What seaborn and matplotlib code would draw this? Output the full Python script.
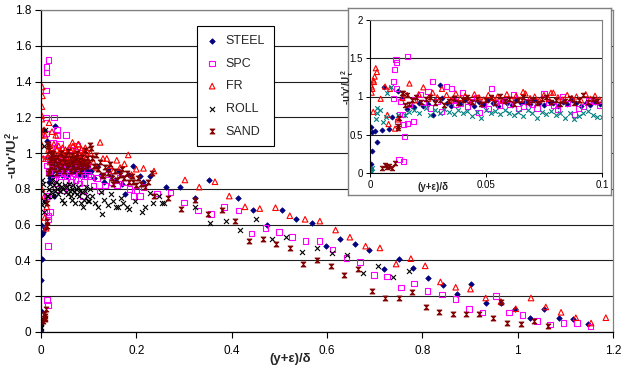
import matplotlib
matplotlib.use("Agg")
import matplotlib.pyplot as plt
import pandas as pd
import seaborn as sns
from matplotlib.path import Path
from matplotlib.ticker import FuncFormatter

# ---------------------------------------------------------------------------
# Reynolds shear stress profiles, -u'v'/U_tau^2 against (y+eps)/delta
# ---------------------------------------------------------------------------
series_names = ["STEEL", "SPC", "FR", "ROLL", "SAND"]

steel_pts = [
    (0.0, 0.0), (0.0003, 0.05), (0.0005, 0.12), (0.0008, 0.29), (0.0004, 0.60), (0.001, 0.54), (0.002, 0.55), (0.003, 0.41), (0.005, 0.56), (0.008, 0.58),
    (0.0094, 0.73), (0.006, 1.13), (0.012, 1.07), (0.014, 0.98), (0.016, 0.84), (0.018, 0.87), (0.019, 0.86), (0.021, 0.91), (0.023, 0.87), (0.025, 0.90),
    (0.027, 0.76), (0.028, 0.95), (0.030, 1.15), (0.031, 0.98), (0.033, 0.92), (0.035, 0.88), (0.037, 0.94), (0.039, 0.90), (0.041, 0.95), (0.043, 0.92),
    (0.045, 0.88), (0.047, 0.93), (0.049, 0.90), (0.051, 0.96), (0.053, 0.91), (0.055, 0.87), (0.057, 0.94), (0.059, 0.92), (0.061, 0.89), (0.063, 0.95),
    (0.065, 0.91), (0.067, 0.93), (0.069, 0.90), (0.071, 0.96), (0.073, 0.92), (0.075, 0.89), (0.077, 0.94), (0.079, 0.91), (0.081, 0.88), (0.083, 0.93),
    (0.085, 0.90), (0.087, 0.95), (0.089, 0.91), (0.091, 0.88), (0.093, 0.92), (0.095, 0.89), (0.097, 0.93), (0.099, 0.90),
    (0.105, 0.90), (0.112, 0.86), (0.118, 0.93), (0.125, 0.88), (0.132, 0.84), (0.140, 0.91), (0.147, 0.87), (0.155, 0.85), (0.163, 0.90), (0.170, 0.83),
    (0.176, 0.77), (0.184, 0.88), (0.194, 0.93), (0.208, 0.87), (0.215, 0.84),
    (0.229, 0.87), (0.262, 0.81), (0.292, 0.81), (0.323, 0.75), (0.353, 0.85), (0.414, 0.75), (0.445, 0.68), (0.475, 0.60), (0.506, 0.68), (0.536, 0.63),
    (0.568, 0.61), (0.597, 0.48), (0.627, 0.52), (0.659, 0.49), (0.689, 0.46), (0.720, 0.35), (0.750, 0.41), (0.781, 0.36), (0.811, 0.30), (0.843, 0.26),
    (0.873, 0.21), (0.902, 0.27), (0.934, 0.16), (0.965, 0.16), (0.994, 0.13), (1.026, 0.08), (1.056, 0.13), (1.087, 0.08), (1.117, 0.07), (1.148, 0.045),
]

spc_pts = [
    (0.0105, 1.35), (0.010, 1.20), (0.0112, 1.48), (0.0115, 1.45), (0.016, 1.52), (0.0115, 1.11), (0.010, 0.97), (0.013, 0.93), (0.0127, 0.76), (0.014, 0.76),
    (0.012, 0.67), (0.0144, 0.63), (0.016, 0.65), (0.0187, 0.67), (0.0148, 0.48), (0.0125, 0.18), (0.0144, 0.15), (0.017, 0.90), (0.019, 0.96), (0.0216, 1.03),
    (0.023, 0.92), (0.025, 1.06), (0.026, 0.85), (0.027, 1.20), (0.029, 0.94), (0.031, 0.80), (0.033, 1.13), (0.035, 1.10), (0.036, 0.95), (0.037, 0.89),
    (0.039, 0.91), (0.040, 1.05), (0.042, 0.87), (0.044, 0.93), (0.046, 0.98), (0.047, 0.79), (0.049, 0.89), (0.051, 0.84), (0.0525, 1.10), (0.054, 0.92),
    (0.056, 0.88), (0.058, 0.95), (0.060, 0.90), (0.062, 1.02), (0.064, 0.84), (0.066, 0.87), (0.068, 0.93), (0.070, 0.89), (0.072, 0.85), (0.075, 1.04),
    (0.077, 0.92), (0.079, 0.88), (0.081, 0.83), (0.083, 1.00), (0.085, 0.91), (0.088, 0.76), (0.090, 0.84), (0.092, 0.87), (0.094, 0.95), (0.097, 0.93),
    (0.099, 0.88),
    (0.103, 0.87), (0.110, 0.82), (0.117, 0.86), (0.124, 0.79), (0.134, 0.82), (0.141, 0.88), (0.148, 0.84), (0.159, 0.82), (0.166, 0.86), (0.176, 0.835),
    (0.186, 0.80), (0.194, 0.76), (0.200, 0.79), (0.208, 0.76), (0.215, 0.81),
    (0.243, 0.775), (0.272, 0.78), (0.300, 0.725), (0.329, 0.68), (0.357, 0.66), (0.384, 0.70), (0.414, 0.68), (0.442, 0.55), (0.471, 0.58), (0.499, 0.56),
    (0.527, 0.53), (0.555, 0.51), (0.584, 0.51), (0.612, 0.46), (0.641, 0.415), (0.669, 0.39), (0.699, 0.32), (0.726, 0.31), (0.755, 0.25), (0.783, 0.27),
    (0.811, 0.23), (0.841, 0.21), (0.870, 0.185), (0.898, 0.13), (0.926, 0.11), (0.954, 0.20), (0.982, 0.11), (1.010, 0.095), (1.040, 0.063), (1.068, 0.043),
    (1.096, 0.049), (1.125, 0.049), (1.153, 0.03),
]

fr_pts = [
    (0.0007, 1.13), (0.0007, 1.05), (0.001, 1.10), (0.0017, 1.19), (0.002, 1.26), (0.0025, 1.37), (0.003, 1.32), (0.0015, 1.21), (0.0014, 0.80), (0.0046, 0.97),
    (0.0075, 0.76), (0.0065, 1.13), (0.0086, 1.10), (0.008, 0.64), (0.0108, 0.58), (0.012, 0.70), (0.014, 0.98), (0.016, 1.02), (0.017, 1.17), (0.019, 0.95),
    (0.021, 1.03), (0.023, 1.12), (0.025, 0.97), (0.027, 1.05), (0.029, 0.99), (0.031, 1.10), (0.033, 1.02), (0.035, 0.96), (0.037, 1.04), (0.039, 0.98),
    (0.041, 1.01), (0.043, 0.95), (0.045, 1.03), (0.047, 0.99), (0.049, 0.96), (0.051, 1.02), (0.053, 0.98), (0.055, 1.00), (0.057, 0.95), (0.059, 1.03),
    (0.061, 0.97), (0.063, 1.01), (0.066, 1.06), (0.065, 0.96), (0.067, 1.04), (0.069, 0.98), (0.071, 1.00), (0.073, 0.95), (0.075, 1.02), (0.078, 1.05),
    (0.077, 0.97), (0.079, 1.05), (0.081, 0.99), (0.083, 0.96), (0.085, 1.02), (0.087, 0.98), (0.089, 1.00), (0.091, 0.95), (0.093, 1.03), (0.095, 0.97),
    (0.097, 1.01), (0.099, 0.96),
    (0.104, 1.00), (0.110, 0.95), (0.116, 0.92), (0.124, 1.06), (0.130, 0.97), (0.138, 0.97), (0.145, 0.93), (0.152, 0.90), (0.159, 0.96), (0.166, 0.92),
    (0.175, 0.94), (0.183, 0.99), (0.190, 0.88), (0.200, 0.91), (0.215, 0.915), (0.237, 0.90),
    (0.302, 0.85), (0.332, 0.81), (0.365, 0.84), (0.395, 0.76), (0.428, 0.70), (0.459, 0.69), (0.492, 0.695), (0.522, 0.65), (0.554, 0.63), (0.585, 0.62),
    (0.618, 0.57), (0.648, 0.53), (0.681, 0.48), (0.711, 0.47), (0.745, 0.38), (0.776, 0.41), (0.806, 0.37), (0.838, 0.28), (0.870, 0.25), (0.901, 0.24),
    (0.933, 0.19), (0.965, 0.17), (0.996, 0.13), (1.028, 0.19), (1.059, 0.14), (1.091, 0.11), (1.122, 0.08), (1.154, 0.05), (1.185, 0.08),
]

roll_pts = [
    (0.0, 0.02), (0.0003, 0.03), (0.0007, 0.07), (0.0005, 0.05), (0.0026, 0.71), (0.003, 0.85), (0.003, 0.79), (0.0043, 0.83), (0.0055, 0.67), (0.007, 0.73),
    (0.0072, 1.04), (0.009, 1.13), (0.012, 0.76), (0.015, 0.76), (0.017, 0.80), (0.019, 0.83), (0.021, 0.78), (0.024, 0.85), (0.026, 0.76), (0.028, 0.82),
    (0.030, 0.79), (0.032, 0.84), (0.034, 0.80), (0.036, 0.77), (0.038, 0.83), (0.040, 0.79), (0.042, 0.81), (0.044, 0.74), (0.046, 0.80), (0.048, 0.72),
    (0.050, 0.82), (0.052, 0.78), (0.054, 0.81), (0.056, 0.77), (0.058, 0.83), (0.060, 0.79), (0.062, 0.76), (0.064, 0.80), (0.066, 0.74), (0.068, 0.82),
    (0.070, 0.78), (0.072, 0.72), (0.074, 0.80), (0.076, 0.77), (0.078, 0.81), (0.080, 0.76), (0.082, 0.79), (0.084, 0.72), (0.086, 0.78), (0.088, 0.70),
    (0.090, 0.74), (0.092, 0.79), (0.094, 0.81), (0.096, 0.76), (0.098, 0.73), (0.100, 0.73),
    (0.103, 0.80), (0.108, 0.76), (0.114, 0.72), (0.120, 0.70), (0.125, 0.78), (0.127, 0.66), (0.133, 0.74), (0.140, 0.71), (0.146, 0.77), (0.152, 0.73),
    (0.158, 0.70), (0.162, 0.70), (0.168, 0.75), (0.173, 0.72), (0.180, 0.70), (0.185, 0.69), (0.197, 0.73), (0.211, 0.67), (0.218, 0.70), (0.229, 0.775),
    (0.236, 0.72), (0.248, 0.76), (0.253, 0.72), (0.258, 0.72),
    (0.323, 0.70), (0.355, 0.61), (0.388, 0.62), (0.417, 0.57), (0.451, 0.63), (0.484, 0.52), (0.515, 0.53), (0.548, 0.45), (0.578, 0.47), (0.611, 0.44),
    (0.643, 0.43), (0.675, 0.33), (0.708, 0.37), (0.739, 0.31), (0.771, 0.34),
]

sand_pts = [
    (0.005, 0.06), (0.0065, 0.10), (0.008, 0.09), (0.0094, 0.07), (0.0108, 0.13), (0.0075, 0.08), (0.012, 0.59), (0.0122, 0.62), (0.0127, 0.72), (0.0137, 1.05),
    (0.0144, 1.04), (0.015, 0.89), (0.016, 1.02), (0.017, 0.90), (0.018, 0.96), (0.020, 0.99), (0.022, 0.93), (0.024, 0.97), (0.026, 1.00), (0.028, 0.92),
    (0.030, 0.96), (0.032, 0.89), (0.034, 0.94), (0.036, 0.98), (0.038, 0.91), (0.040, 0.95), (0.042, 1.00), (0.044, 0.93), (0.046, 0.97), (0.048, 0.90),
    (0.050, 0.95), (0.052, 0.99), (0.054, 0.92), (0.056, 1.01), (0.058, 0.94), (0.060, 0.97), (0.062, 0.90), (0.064, 0.95), (0.066, 0.99), (0.068, 0.93),
    (0.070, 0.96), (0.072, 0.91), (0.074, 0.97), (0.076, 1.00), (0.078, 0.93), (0.080, 0.96), (0.082, 0.90), (0.084, 0.94), (0.086, 0.98), (0.088, 0.92),
    (0.090, 0.95), (0.092, 1.02), (0.094, 0.93), (0.096, 0.97), (0.098, 0.94),
    (0.103, 1.045), (0.105, 1.03), (0.108, 0.97), (0.112, 0.93), (0.116, 0.99), (0.120, 0.91), (0.124, 0.95), (0.128, 0.88), (0.131, 0.87), (0.135, 0.92),
    (0.140, 0.89), (0.145, 0.94), (0.148, 0.86), (0.152, 0.83), (0.156, 0.90), (0.160, 0.85), (0.165, 0.88), (0.170, 0.91), (0.175, 0.86), (0.180, 0.89),
    (0.185, 0.84), (0.190, 0.87), (0.194, 0.84), (0.200, 0.82), (0.204, 0.86), (0.210, 0.83), (0.218, 0.81), (0.225, 0.84), (0.232, 0.89),
    (0.237, 0.76), (0.267, 0.75), (0.293, 0.69), (0.323, 0.74), (0.351, 0.66), (0.379, 0.68), (0.408, 0.62), (0.437, 0.51), (0.466, 0.52), (0.494, 0.49),
    (0.522, 0.47), (0.550, 0.38), (0.578, 0.40), (0.608, 0.37), (0.636, 0.32), (0.664, 0.35), (0.694, 0.23), (0.722, 0.19), (0.750, 0.19), (0.778, 0.225),
    (0.808, 0.14), (0.836, 0.11), (0.864, 0.10), (0.892, 0.10), (0.919, 0.10), (0.949, 0.08), (0.964, 0.17), (0.978, 0.05), (1.006, 0.043), (1.035, 0.06),
    (1.063, 0.035),
]

main_xticks = [0, 0.2, 0.4, 0.6, 0.8, 1.0, 1.2]
main_yticks = [0, 0.2, 0.4, 0.6, 0.8, 1.0, 1.2, 1.4, 1.6, 1.8]
inset_xticks = [0, 0.05, 0.1]
inset_yticks = [0, 0.5, 1, 1.5, 2]

# long-form table of all series
frames = []
for name, pts in zip(series_names, [steel_pts, spc_pts, fr_pts, roll_pts, sand_pts]):
    df_s = pd.DataFrame(pts, columns=["x", "y"])
    df_s["series"] = name
    frames.append(df_s)
data = pd.concat(frames, ignore_index=True)

# ---------------------------------------------------------------------------
# styling
# ---------------------------------------------------------------------------
sns.set_style("ticks")
plt.rcParams["font.family"] = ["Liberation Sans", "DejaVu Sans"]
plt.rcParams["mathtext.fontset"] = "custom"
plt.rcParams["mathtext.rm"] = "Liberation Sans:bold"
plt.rcParams["mathtext.it"] = "Liberation Sans:bold"
plt.rcParams["mathtext.bf"] = "Liberation Sans:bold"
plt.rcParams["mathtext.default"] = "bf"

hourglass = Path([(-1, 1), (1, 1), (-1, -1), (1, -1), (-1, 1)],
                 [Path.MOVETO, Path.LINETO, Path.LINETO, Path.LINETO, Path.CLOSEPOLY])

styles = {
    "STEEL": dict(color="#000080", marker="D", s=8, hollow=False, lw=0.5),
    "SPC": dict(color="#FF00FF", marker="s", s=16, hollow=True, lw=0.8),
    "FR": dict(color="#FF0000", marker="^", s=16, hollow=True, lw=0.8),
    "ROLL": dict(color="#000000", marker="x", s=13, hollow=False, lw=0.8),
    "SAND": dict(color="#800000", marker=hourglass, s=13, hollow=False, lw=0.6),
}
inset_colors = {"ROLL": "#008080"}


def draw_series(axis, name, scale=1.0, color=None, label=None):
    st = styles[name]
    col = color or st["color"]
    sub = data[data["series"] == name]
    sns.scatterplot(data=sub, x="x", y="y", ax=axis, marker=st["marker"],
                    s=st["s"] * scale, color=col, label=label, legend=False)
    coll = axis.collections[-1]
    coll.set_facecolor("none" if st["hollow"] else col)
    coll.set_edgecolor(col)
    coll.set_linewidth(st["lw"])
    coll.set_label(label if label else "_nolegend_")


fmt = FuncFormatter(lambda v, p: f"{v:g}")

fig = plt.figure(figsize=(6.34, 3.70), dpi=100)
fig.patch.set_facecolor("white")

# main axes
ax = fig.add_axes([41 / 634, 38 / 370, 572 / 634, 322 / 370])
for name in series_names:
    draw_series(ax, name, label=name)

ax.set_xlim(0, 1.2)
ax.set_ylim(0, 1.8)
ax.set_xticks(main_xticks)
ax.set_yticks(main_yticks)
ax.xaxis.set_major_formatter(fmt)
ax.yaxis.set_major_formatter(fmt)
ax.grid(axis="y", color="#202020", lw=0.8)
ax.grid(axis="x", visible=False)
ax.set_axisbelow(True)
ax.tick_params(axis="both", direction="out", length=4, width=0.8,
               labelsize=8.5, pad=3, colors="black")
ax.tick_params(axis="x", pad=5)
for side in ["left", "bottom"]:
    ax.spines[side].set_color("black")
    ax.spines[side].set_linewidth(0.9)
for side in ["top", "right"]:
    ax.spines[side].set_visible(True)
    ax.spines[side].set_color("#808080")
    ax.spines[side].set_linewidth(0.9)

ax.set_xlabel("(y+ε)/δ", fontsize=9.5, fontweight="bold")
ax.xaxis.set_label_coords(0.435, -0.065)
ax.set_ylabel(r"-u'v'/U$_\tau^{\,2}$", fontsize=9.5, fontweight="bold")
ax.yaxis.set_label_coords(-0.034, 0.55)

leg = ax.legend(loc="upper left", bbox_to_anchor=(0.273, 0.949), frameon=True,
                fancybox=False, edgecolor="black", framealpha=1, fontsize=9,
                labelspacing=0.85, borderpad=0.7, handlelength=1.0,
                handletextpad=0.6, borderaxespad=0)
leg.get_frame().set_linewidth(0.8)

# framed inset background
frame_ax = fig.add_axes([348 / 634, (370 - 195) / 370, 263 / 634, 187 / 370])
frame_ax.set_zorder(5)
frame_ax.set_facecolor("white")
frame_ax.set_xticks([])
frame_ax.set_yticks([])
for sp in frame_ax.spines.values():
    sp.set_visible(True)
    sp.set_color("#808080")
    sp.set_linewidth(1.0)

# inset: near-wall zoom
ins = fig.add_axes([370 / 634, (370 - 173) / 370, 232 / 634, 153 / 370])
ins.set_zorder(6)
ins.set_facecolor("white")
for name in series_names:
    draw_series(ins, name, scale=0.85, color=inset_colors.get(name))
ins.set_xlim(0, 0.1)
ins.set_ylim(0, 2)
ins.set_xticks(inset_xticks)
ins.set_yticks(inset_yticks)
ins.xaxis.set_major_formatter(fmt)
ins.yaxis.set_major_formatter(fmt)
ins.grid(axis="y", color="#202020", lw=0.8)
ins.grid(axis="x", visible=False)
ins.set_axisbelow(True)
ins.tick_params(axis="both", direction="out", length=3, width=0.7,
                labelsize=7, pad=2, colors="black")
for side in ["left", "bottom"]:
    ins.spines[side].set_color("black")
    ins.spines[side].set_linewidth(0.8)
for side in ["top", "right"]:
    ins.spines[side].set_visible(True)
    ins.spines[side].set_color("#808080")
    ins.spines[side].set_linewidth(0.8)
ins.set_xlabel("(y+ε)/δ", fontsize=7, fontweight="bold")
ins.xaxis.set_label_coords(0.27, -0.06)
ins.set_ylabel(r"-u'v'/U$_\tau^{\,2}$", fontsize=7, fontweight="bold")
ins.yaxis.set_label_coords(-0.06, 0.56)

fig.savefig("out.png", dpi=100, facecolor="white")
